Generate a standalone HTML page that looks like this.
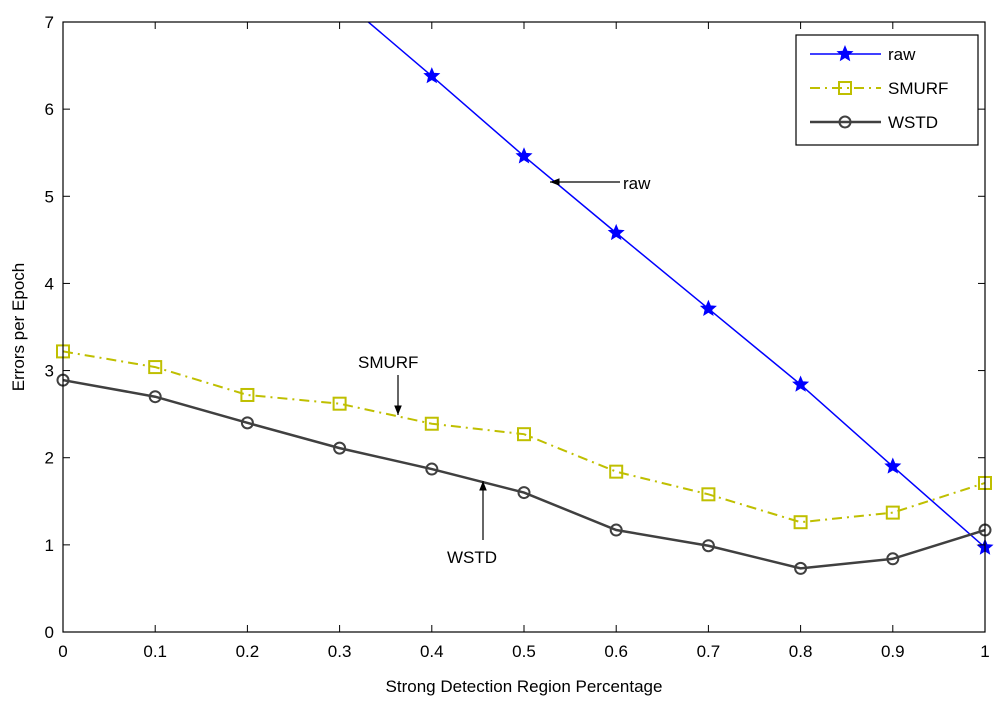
<!DOCTYPE html>
<html><head><meta charset="utf-8"><style>
body{margin:0;background:#fff;}
svg text{font-family:"Liberation Sans",Arial,sans-serif;font-size:17px;fill:#000;}
</style></head><body>
<svg id="c" width="1000" height="706" xmlns="http://www.w3.org/2000/svg">
<defs><clipPath id="pc"><rect x="63" y="22" width="922" height="610"/></clipPath>
<marker id="ah" viewBox="0 0 10 10" refX="10" refY="5" markerWidth="8" markerHeight="8" orient="auto"><path d="M0,1 L10,5 L0,9 Z" fill="#000"/></marker></defs>
<g id="grid"></g><g id="series" clip-path="url(#pc)"></g><g id="marks"></g><g id="axes"></g><g id="ann"></g><g id="leg"></g>
</svg>
<script>
const xs=[0,0.1,0.2,0.3,0.4,0.5,0.6,0.7,0.8,0.9,1];
const rawVals=[10.0,9.1,8.2,7.28,6.38,5.46,4.58,3.71,2.84,1.9,0.97];
const smurfVals=[3.22,3.04,2.72,2.62,2.39,2.27,1.84,1.58,1.26,1.37,1.71];
const wstdVals=[2.89,2.7,2.4,2.11,1.87,1.6,1.17,0.99,0.73,0.84,1.17];
const xTicks=["0","0.1","0.2","0.3","0.4","0.5","0.6","0.7","0.8","0.9","1"];
const yTicks=[0,1,2,3,4,5,6,7];
const NS="http://www.w3.org/2000/svg";
const X=v=>63+v*922, Y=v=>632-v*(610/7);
function mk(t,a,p){const e=document.createElementNS(NS,t);for(const k in a)e.setAttribute(k,a[k]);p.appendChild(e);return e;}
const axes=document.getElementById('axes');
const frame=mk('rect',{x:63,y:22,width:922,height:610,fill:'none',stroke:'#000','stroke-width':1.2},axes);


xs.forEach((v,i)=>{
 mk('line',{x1:X(v),x2:X(v),y1:632,y2:625,stroke:'#000'},axes);
 mk('line',{x1:X(v),x2:X(v),y1:22,y2:29,stroke:'#000'},axes);
 const t=mk('text',{x:X(v),y:657,'text-anchor':'middle'},axes);t.textContent=xTicks[i];
 
 
});
yTicks.forEach(v=>{
 mk('line',{x1:63,x2:70,y1:Y(v),y2:Y(v),stroke:'#000'},axes);
 mk('line',{x1:985,x2:978,y1:Y(v),y2:Y(v),stroke:'#000'},axes);
 const t=mk('text',{x:54,y:Y(v)+6,'text-anchor':'end'},axes);t.textContent=v;
 
 
});
const xt=mk('text',{x:524,y:692,'text-anchor':'middle'},axes);xt.textContent='Strong Detection Region Percentage';


const yt=mk('text',{x:24,y:327,'text-anchor':'middle',transform:'rotate(-90 24 327)'},axes);yt.textContent='Errors per Epoch';


function star(cx,cy,r,col,p){let d='';for(let i=0;i<10;i++){const a=-Math.PI/2+i*Math.PI/5,rr=i%2?r*0.45:r;d+=(i?'L':'M')+(cx+rr*Math.cos(a))+','+(cy+rr*Math.sin(a));}return mk('path',{d:d+'Z',fill:col,stroke:col,'stroke-width':1.5},p);}
function marker(type,cx,cy,col,p){
 if(type==='star')return star(cx,cy,7,col,p);
 if(type==='sq')return mk('rect',{x:cx-6,y:cy-6,width:12,height:12,fill:'none',stroke:col,'stroke-width':2},p);
 return mk('circle',{cx:cx,cy:cy,r:5.5,fill:'none',stroke:col,'stroke-width':2},p);
}
const sg=document.getElementById('series');
const mg=document.getElementById('marks');
const series=[[rawVals,'#0000ff','star','',1.5,'raw'],[smurfVals,'#bfbf00','sq','10 5 2 5',2,'smurf'],[wstdVals,'#404040','circ','',2.5,'wstd']];
series.forEach(([vals,col,m,da,w,nm])=>{
 const pl=mk('polyline',{points:xs.map((x,i)=>X(x)+','+Y(vals[i])).join(' '),fill:'none',stroke:col,'stroke-width':w,'stroke-dasharray':da},sg);
 
 
 xs.forEach((x,i)=>{if(vals[i]>7)return;const mm=marker(m,X(x),Y(vals[i]),col,mg);
  
  });
});
const ann=document.getElementById('ann');
function arrow(x1,y1,x2,y2,lbl,tx,ty,nm){
 mk('line',{x1,y1,x2,y2,stroke:'#000','stroke-width':1.2,'marker-end':'url(#ah)'},ann);
 const t=mk('text',{x:tx,y:ty},ann);t.textContent=lbl;
 
 
}
arrow(620,182,550,182,'raw',623,189,'raw-annotation');
arrow(398,375,398,415,'SMURF',358,368,'smurf-annotation');
arrow(483,540,483,481,'WSTD',447,563,'wstd-annotation');
const lg=document.getElementById('leg');
const box=mk('rect',{x:796,y:35,width:182,height:110,fill:'#fff',stroke:'#000','stroke-width':1.2},lg);


series.forEach(([vals,col,m,da,w,nm],i)=>{
 const y=54+i*34;
 mk('line',{x1:810,x2:881,y1:y,y2:y,stroke:col,'stroke-width':w,'stroke-dasharray':da},lg);
 marker(m,845,y,col,lg);
 const t=mk('text',{x:888,y:y+6},lg);t.textContent=['raw','SMURF','WSTD'][i];
 
 
});
</script>
</body></html>
